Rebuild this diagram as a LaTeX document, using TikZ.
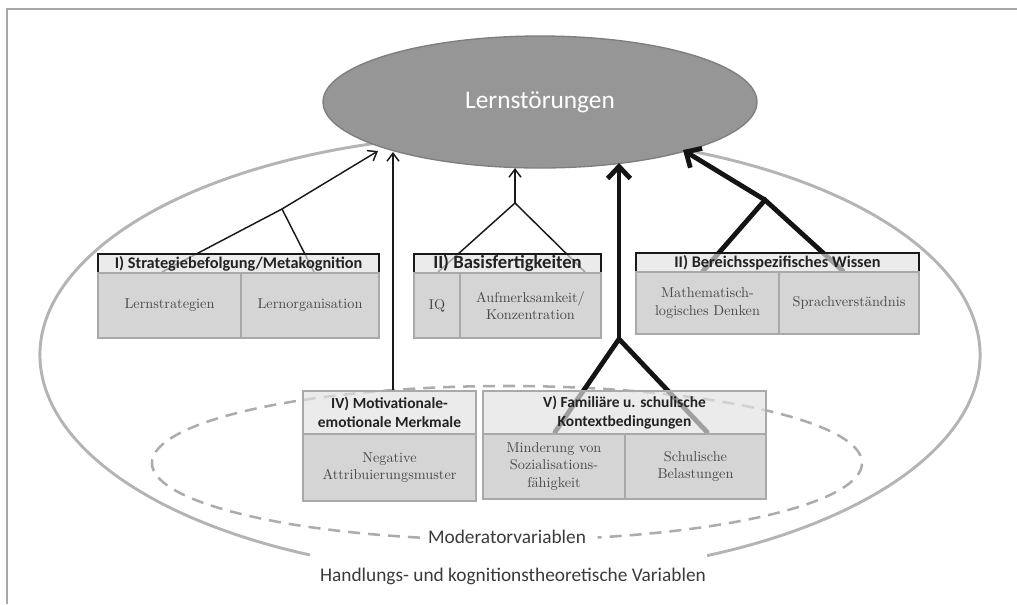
\documentclass[tikz,border=0pt]{standalone}
\usepackage{fontspec}
\setsansfont{Carlito}
\usetikzlibrary{arrows.meta,shapes.geometric}
\definecolor{framec}{HTML}{A8A8A8}
\definecolor{outerc}{HTML}{B4B4B4}
\definecolor{dashc}{HTML}{ACACAC}
\definecolor{lfill}{HTML}{969696}
\definecolor{lborder}{HTML}{7E7E7E}
\definecolor{barc}{HTML}{E2E2E2}
\definecolor{cellc}{HTML}{D5D5D5}
\definecolor{cellb}{HTML}{A9A9A9}
\definecolor{celltext}{HTML}{484848}
\definecolor{titletext}{HTML}{222222}
\definecolor{labtext}{HTML}{3A3A3A}
\tikzset{
  thinline/.style={draw=black!90, line width=1.1pt},
  thinarrow/.style={thinline, -{Straight Barb[length=6pt,width=9pt]}},
  thickline/.style={draw=black!92, line width=3.6pt, line cap=round, line join=miter},
  thickarrow/.style={thickline, -{Straight Barb[length=9pt,width=17pt]}},
  barbox/.style={draw=black!90, line width=1.5pt, fill=barc, fill opacity=0.68, text opacity=1,
    anchor=north west, inner sep=0pt, align=center, text=titletext,
    font=\sffamily\bfseries\fontsize{12.2}{13}\selectfont},
  bargray/.style={barbox, draw=cellb},
  cellbox/.style={draw=cellb, line width=1.5pt, fill=cellc, anchor=north west, inner sep=0pt,
    align=center, text=celltext, font=\fontsize{10.7}{13}\selectfont},
  lern/.style={ellipse, draw=lborder, line width=1pt, fill=lfill, text=white, inner sep=0pt,
    font=\sffamily\fontsize{19}{22}\selectfont},
  varlabel/.style={text=labtext, font=\sffamily\fontsize{14.5}{16}\selectfont, inner sep=1pt}
}
\begin{document}
\begin{tikzpicture}[x=0.75pt,y=-0.75pt]
\useasboundingbox (0,0) rectangle (1017,604);
% frame
\draw[framec, line width=1.5pt] (7,604) -- (7,9) -- (1017,9);
% outer ellipse with gap at bottom
\draw[outerc, line width=2.2pt] (510,355) ++(115.2:470 and 221)
  arc[start angle=115.2, end angle=425.2, x radius=470, y radius=221];
% dashed moderator ellipse with gap
\draw[dashc, line width=1.9pt, dash pattern=on 9pt off 6pt] (507,463) ++(104.2:355 and 77)
  arc[start angle=104.2, end angle=435.2, x radius=355, y radius=77];
\node[varlabel] (mod) at (507,537) {Moderatorvariablen};
\node[varlabel] (hand) at (513,576) {Handlungs- und kognitionstheoretische Variablen};

% central ellipse
\node[lern, minimum width=325.5pt, minimum height=99pt] (L) at (540,102) {Lernstörungen};

% connector coordinates
\coordinate (aI) at (282,209);
\coordinate (lIa) at (162,272);
\coordinate (lIb) at (314,272);
\coordinate (tI) at (378,151);
\coordinate (aII) at (515,203);
\coordinate (lIIa) at (438,272);
\coordinate (lIIb) at (585,272);
\coordinate (tII) at (515,168);
\coordinate (aIII) at (765,200);
\coordinate (lIIIa) at (703,271);
\coordinate (lIIIb) at (843,271);
\coordinate (tIII) at (683,150);
\coordinate (sIV) at (393,390);
\coordinate (tIV) at (393,152);
\coordinate (aV) at (619,339);
\coordinate (lVa) at (555,432);
\coordinate (lVb) at (707,432);
\coordinate (tV) at (619,163);

% connectors
\draw[thinline] (lIa) -- (aI) -- (lIb);
\draw[thinarrow] (aI) -- (tI);
\draw[thinline] (lIIa) -- (aII) -- (lIIb);
\draw[thinarrow] (aII) -- (tII);
\draw[thickline] (lIIIa) -- (aIII) -- (lIIIb);
\draw[thickarrow] (aIII) -- (tIII);
\draw[thinarrow] (sIV) -- (tIV);
\draw[thickline] (lVa) -- (aV) -- (lVb);
\draw[thickarrow] (aV) -- (tV);

% Box I
\node[barbox, minimum width=210.75pt, minimum height=14.25pt] (bI) at (97,253) {I) Strategiebefolgung/Metakognition};
\node[cellbox, minimum width=107.25pt, minimum height=48.75pt] (cIa) at (97,272) {Lernstrategien};
\node[cellbox, minimum width=103.5pt, minimum height=48.75pt] (cIb) at (240,272) {Lernorganisation};
% Box II
\node[barbox, minimum width=140.25pt, minimum height=14.25pt, font=\sffamily\bfseries\fontsize{14}{15}\selectfont] (bII) at (413,253) {II) Basisfertigkeiten};
\node[cellbox, minimum width=34.5pt, minimum height=48.75pt] (cIIa) at (413,272) {IQ};
\node[cellbox, minimum width=105.75pt, minimum height=48.75pt] (cIIb) at (459,272) {Aufmerksamkeit/\\Konzentration};
% Box III
\node[barbox, minimum width=212.25pt, minimum height=14.25pt] (bIII) at (635,252) {II) Bereichsspezifisches Wissen};
\node[cellbox, minimum width=107.25pt, minimum height=46.5pt] (cIIIa) at (635,271) {Mathematisch-\\logisches Denken};
\node[cellbox, minimum width=105pt, minimum height=46.5pt] (cIIIb) at (778,271) {Sprachverständnis};
% Box IV
\node[bargray, minimum width=129.75pt, minimum height=32.25pt, font=\sffamily\bfseries\fontsize{11.6}{14}\selectfont] (bIV) at (302,390) {IV) Motivationale-\\emotionale Merkmale};
\node[cellbox, minimum width=129.75pt, minimum height=50.25pt] (cIV) at (302,433) {Negative\\Attribuierungsmuster};
% Box V
\node[bargray, minimum width=212.25pt, minimum height=32.25pt, font=\sffamily\bfseries\fontsize{11.6}{14}\selectfont] (bV) at (482,390) {V) Familiäre u. schulische\\Kontextbedingungen};
\node[cellbox, minimum width=106.5pt, minimum height=48.75pt] (cVa) at (482,433) {Minderung von\\Sozialisations-\\fähigkeit};
\node[cellbox, minimum width=105.75pt, minimum height=48.75pt] (cVb) at (624,433) {Schulische\\Belastungen};
\end{tikzpicture}
\end{document}
